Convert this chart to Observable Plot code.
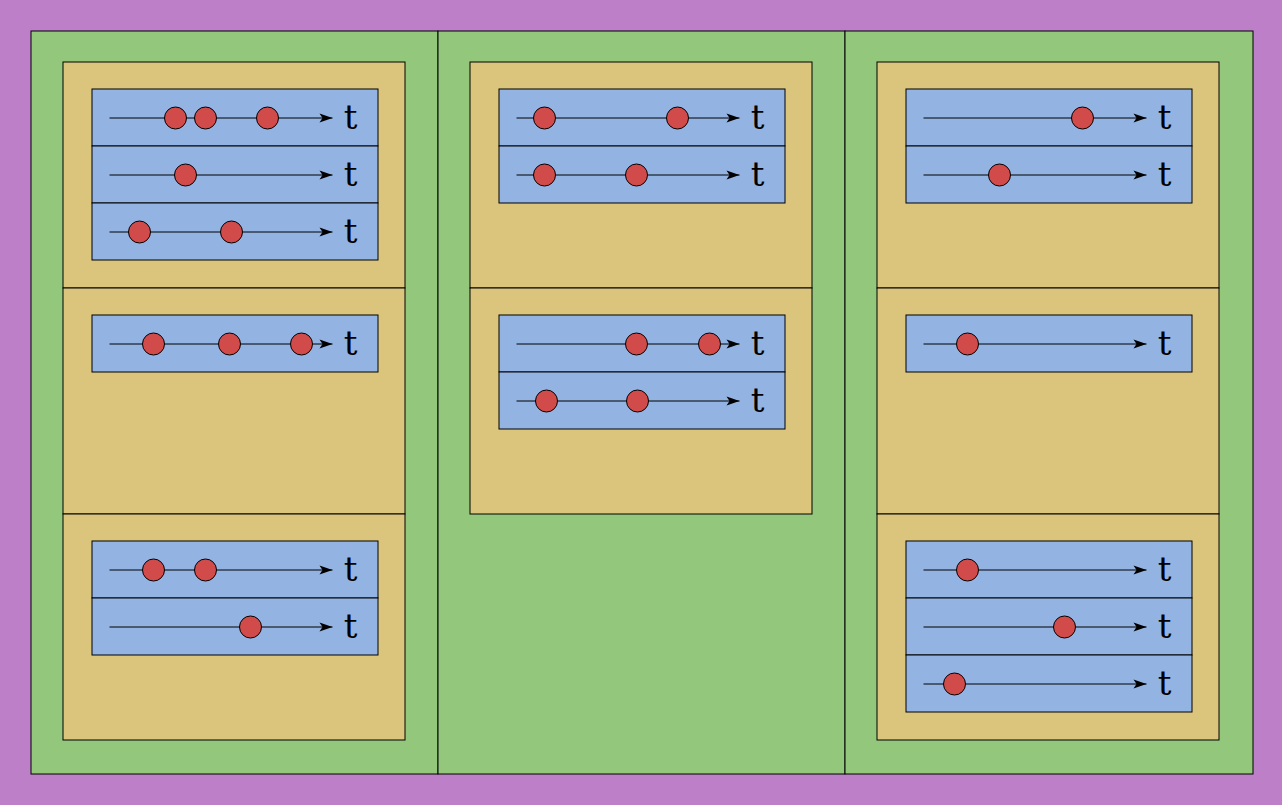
<!DOCTYPE html>
<html><head><meta charset="utf-8">
<script src="https://cdn.jsdelivr.net/npm/d3@7"></script>
<script src="https://cdn.jsdelivr.net/npm/@observablehq/plot@0.6"></script>
<style>body{margin:0;background:#bd7fc8}</style>
</head><body><div id="c"></div>
<script>
// Structure: columns -> boxes -> lanes, each lane holding event times (0..286 lane units)
const columns = [0, 1, 2];
const boxes = [
  {col:0,row:0},{col:0,row:1},{col:0,row:2},
  {col:1,row:0},{col:1,row:1},
  {col:2,row:0},{col:2,row:1},{col:2,row:2}
];
const lanes = [
  {box:0,lane:0,events:[83,113,175]},
  {box:0,lane:1,events:[93]},
  {box:0,lane:2,events:[47,139]},
  {box:1,lane:0,events:[61,137,209]},
  {box:2,lane:0,events:[61,113]},
  {box:2,lane:1,events:[158]},
  {box:3,lane:0,events:[45,178]},
  {box:3,lane:1,events:[45,137]},
  {box:4,lane:0,events:[137,210]},
  {box:4,lane:1,events:[47,138]},
  {box:5,lane:0,events:[176]},
  {box:5,lane:1,events:[93]},
  {box:6,lane:0,events:[61]},
  {box:7,lane:0,events:[61]},
  {box:7,lane:1,events:[158]},
  {box:7,lane:2,events:[48]}
];
const axisLabel = "t";

// layout helpers
const G = {x0:31,y0:31,x1:1253,y1:774,colW:407};
const boxX = c => 63 + c*G.colW, boxY = r => 62 + r*226, BW = 342, BH = 226;
const laneX = b => boxX(boxes[b].col) + 29, laneY = (b,l) => boxY(boxes[b].row) + 27 + l*57, LW = 286, LH = 57;

const colRects = columns.map(c => ({x1:G.x0 + c*G.colW, x2: c===2?G.x1:G.x0+(c+1)*G.colW, y1:G.y0, y2:G.y1}));
const boxRects = boxes.map(b => ({x1:boxX(b.col), x2:boxX(b.col)+BW, y1:boxY(b.row), y2:boxY(b.row)+BH}));
const laneRects = lanes.map(l => ({x1:laneX(l.box), x2:laneX(l.box)+LW, y1:laneY(l.box,l.lane), y2:laneY(l.box,l.lane)+LH}));
const axes = lanes.map(l => ({x1:laneX(l.box)+17, x2:laneX(l.box)+240, y:laneY(l.box,l.lane)+LH/2, tx:laneX(l.box)+258}));
const dots = lanes.flatMap(l => l.events.map(e => ({x:laneX(l.box)+e, y:laneY(l.box,l.lane)+LH/2})));
const head = {draw(ctx){ctx.moveTo(0,0);ctx.lineTo(-13,-4.5);ctx.lineTo(-10,0);ctx.lineTo(-13,4.5);ctx.closePath();}};

const chart = Plot.plot({
  width:1282, height:805, margin:0,
  x:{type:"identity", axis:null}, y:{type:"identity", axis:null},
  style:{background:"#bd7fc8"},
  marks:[
    Plot.rect(colRects,{x1:"x1",x2:"x2",y1:"y1",y2:"y2",fill:"#93c77c",stroke:"black",strokeWidth:1}),
    Plot.rect(boxRects,{x1:"x1",x2:"x2",y1:"y1",y2:"y2",fill:"#dbc57c",stroke:"black",strokeWidth:1}),
    Plot.rect(laneRects,{x1:"x1",x2:"x2",y1:"y1",y2:"y2",fill:"#93b3e2",stroke:"black",strokeWidth:1}),
    Plot.link(axes,{x1:"x1",x2:"x2",y1:"y",y2:"y",stroke:"black",strokeWidth:1}),
    Plot.dot(axes,{x:"x2",y:"y",symbol:head,fill:"black",stroke:"none",r:5}),
    Plot.text(axes,{x:"tx",y:"y",text:()=>axisLabel,fontFamily:"DejaVu Serif, serif",fontSize:34,fill:"black",dy:0}),
    Plot.dot(dots,{x:"x",y:"y",r:11,fill:"#d14b4b",stroke:"black",strokeWidth:1})
  ]
});
document.getElementById("c").append(chart);
</script></body></html>
